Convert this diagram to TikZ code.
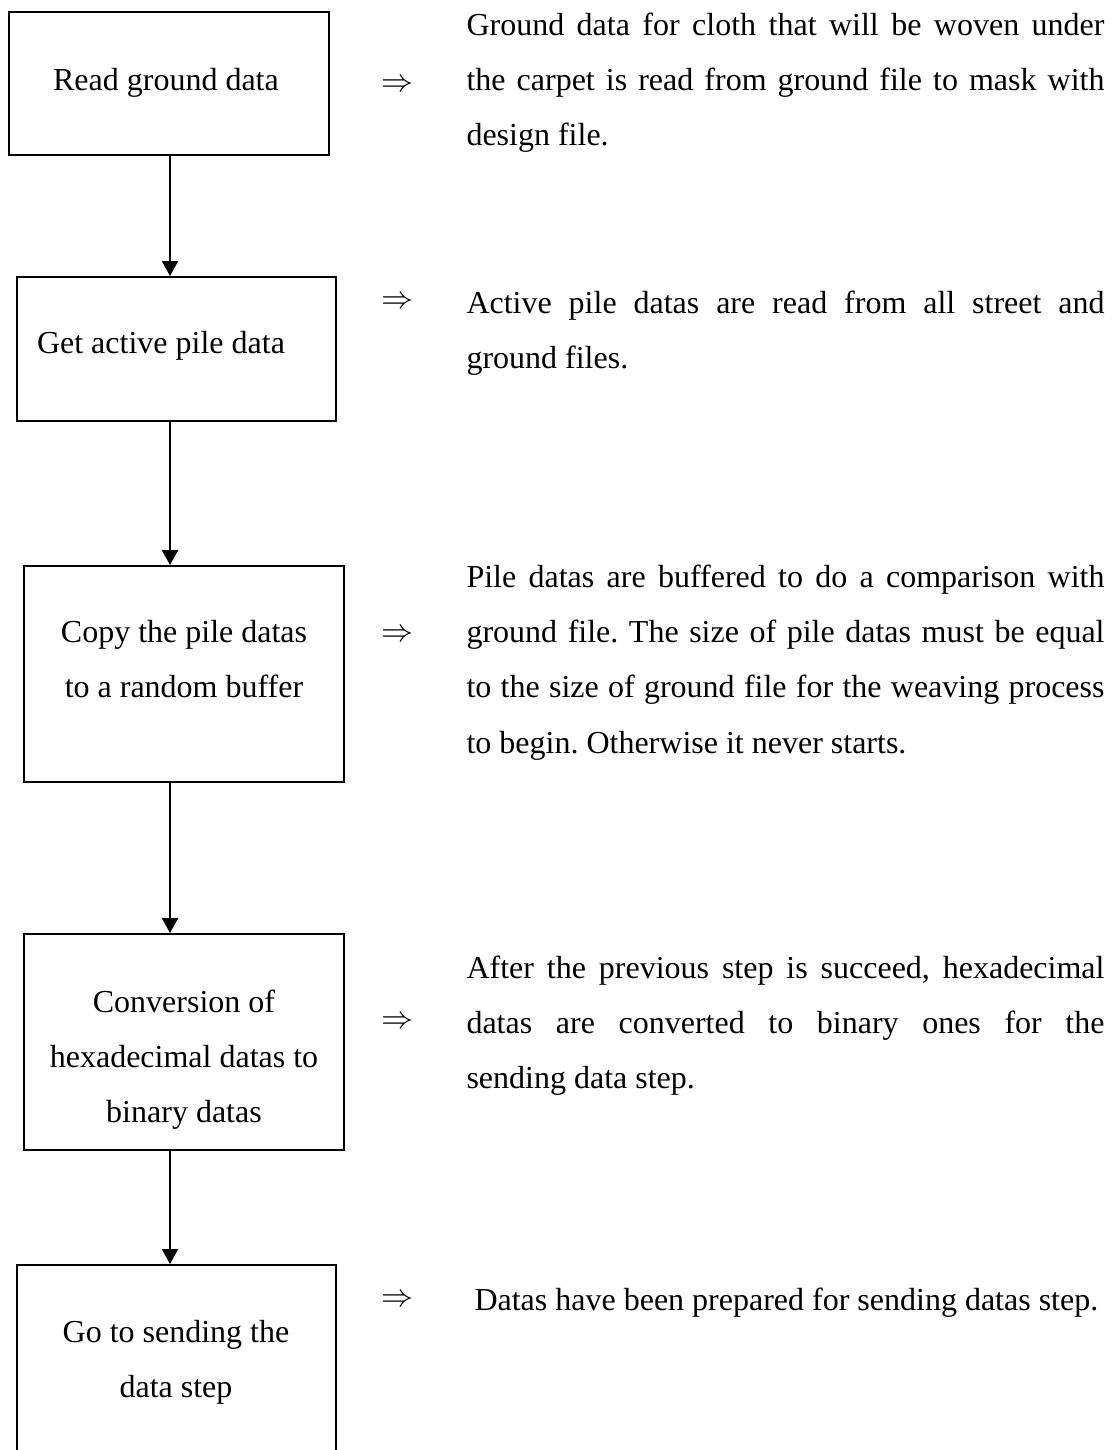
\documentclass[tikz,border=0pt]{standalone}
\usepackage{fontspec}
\setmainfont{Liberation Serif}
\usetikzlibrary{arrows.meta}
\frenchspacing

\tikzset{
	stepbox/.style={draw, line width=0.75pt, inner sep=0pt},
	boxtext/.style={inner sep=0pt, text width=112pt, align=flush center, anchor=base, font=\fontsize{12}{20.7}\selectfont},
	note/.style={inner sep=0pt, text width=239.25pt, align=justify, anchor=base west, font=\fontsize{12}{20.8}\selectfont},
	impl/.style={inner sep=0pt, font=\fontsize{12}{14}\selectfont},
	flow/.style={line width=0.75pt, -{Triangle[width=6pt,length=5.6pt]}}
}

\begin{document}
\begin{tikzpicture}[x=0.375pt, y=-0.375pt]
	\useasboundingbox (0,0) rectangle (1118,1450);
	\clip (0,0) rectangle (1118,1450);

	% the steps
	\node[stepbox, minimum width=120pt, minimum height=53.6pt] (b1) at (169,83.5) {};
	\node[stepbox, minimum width=119.6pt, minimum height=54pt] (b2) at (176.5,349) {};
	\node[stepbox, minimum width=120pt, minimum height=81pt] (b3) at (184,674) {};
	\node[stepbox, minimum width=120pt, minimum height=81pt] (b4) at (184,1042) {};
	\node[stepbox, minimum width=119.6pt, minimum height=81pt] (b5) at (176.5,1373) {};

	\node[boxtext] (t1) at (166,90) {Read ground data};
	\node[boxtext] (t2) at (161,353) {Get active pile data};
	\node[boxtext] (t3) at (184,642) {Copy the pile datas\\to a random buffer};
	\node[boxtext] (t4) at (184,1012) {Conversion of\\hexadecimal datas to\\binary datas};
	\node[boxtext] (t5) at (176,1342) {Go to sending the\\data step};

	\coordinate (col) at (170,0);
	\foreach \a/\b in {b1/b2, b2/b3, b3/b4, b4/b5}
		\draw[flow] (col |- \a.south) -- (col |- \b.north);

	% explanations
	\node[impl] (i1) at (397,86) {$\Rightarrow$};
	\node[impl] (i2) at (397,303) {$\Rightarrow$};
	\node[impl] (i3) at (397,636) {$\Rightarrow$};
	\node[impl] (i4) at (397,1023) {$\Rightarrow$};
	\node[impl] (i5) at (397,1301) {$\Rightarrow$};

	\node[note] (n1) at (466,35) {Ground data for cloth that will be woven under\linebreak
		the carpet is read from ground file to mask with\linebreak
		design file.};
	\node[note] (n2) at (466,313) {Active pile datas are read from all street and\linebreak
		ground files.};
	\node[note] (n3) at (466,587) {Pile datas are buffered to do a comparison with\linebreak
		ground file. The size of pile datas must be equal\linebreak
		to the size of ground file for the weaving process\linebreak
		to begin. Otherwise it never starts.};
	\node[note] (n4) at (466,978) {After the previous step is succeed, hexadecimal\linebreak
		datas are converted to binary ones for the\linebreak
		sending data step.};
	\node[note] (n5) at (474,1310) {Datas have been prepared for sending datas step.};
\end{tikzpicture}
\end{document}
